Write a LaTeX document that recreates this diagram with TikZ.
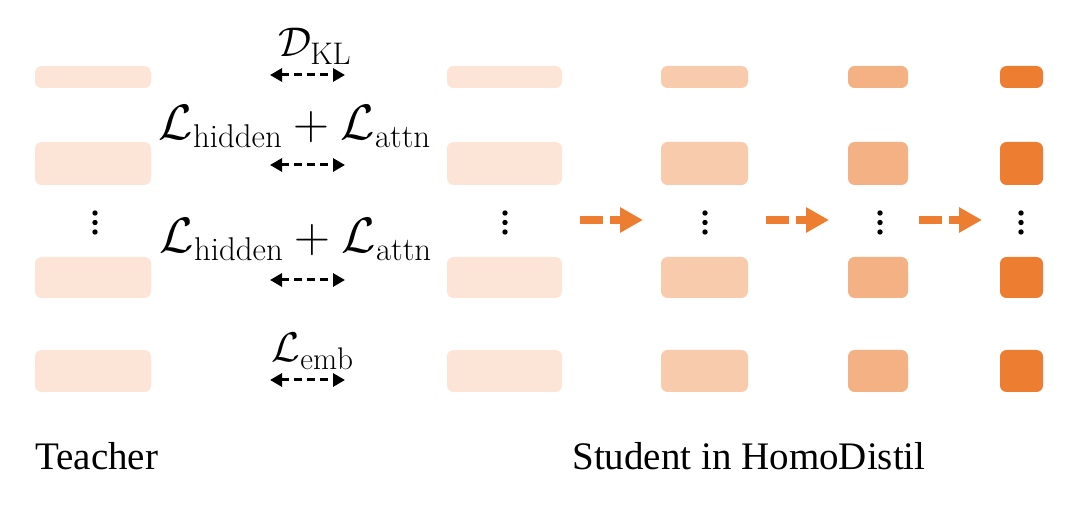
\documentclass[tikz,border=0pt]{standalone}
\usepackage{fontspec}
\newfontfamily\tnr{Liberation Serif}
\usetikzlibrary{arrows.meta}
\definecolor{c1}{HTML}{FCE4D6}
\definecolor{c2}{HTML}{F8CBAD}
\definecolor{c3}{HTML}{F4B183}
\definecolor{c4}{HTML}{ED7D31}
\tikzset{
  blk/.style={rounded corners=3.3pt},
  lab/.style={anchor=base,inner sep=0pt,font=\fontsize{22.3}{26}\selectfont},
  labw/.style={anchor=base,inner sep=0pt,font=\fontsize{23.5}{28}\selectfont},
  captxt/.style={anchor=base west,inner sep=0pt,font=\tnr\fontsize{19.5}{23}\selectfont},
  klarr/.style={line width=1.5pt,dash pattern=on 4pt off 2.5pt,{Triangle[length=6pt,width=6.5pt]}-{Triangle[length=6pt,width=6.5pt]}},
  orarr/.style={draw=c4,line width=4pt,dash pattern=on 11.5pt off 3.5pt on 60pt,-{Triangle[length=11.5pt,width=12pt]}},
  dotnode/.style={circle,fill=black,inner sep=0pt,minimum size=2.7pt}
}
\begin{document}
\begin{tikzpicture}[x=0.5pt,y=-0.5pt]
\useasboundingbox (0,0) rectangle (1080,506);
% columns: left x, right x, colour
\foreach \n/\xl/\xr/\c in {t/35/151/c1, s/447/562/c1, a/661/748/c2, b/848/908/c3, c/1000/1043/c4}{
  \fill[blk,\c] (\xl,66) rectangle (\xr,88) coordinate (\n1);
  \fill[blk,\c] (\xl,142) rectangle (\xr,185) coordinate (\n2);
  \fill[blk,\c] (\xl,257) rectangle (\xr,298) coordinate (\n3);
  \fill[blk,\c] (\xl,350) rectangle (\xr,392) coordinate (\n4);
}
% vertical dots
\foreach \n/\x in {t/95, s/505, a/705, b/880, c/1021}{
  \node[dotnode] (\n da) at (\x,213) {};
  \node[dotnode] (\n db) at (\x,222.5) {};
  \node[dotnode] (\n dc) at (\x,232) {};
}
% loss labels
\node[lab] (l1) at (315,57) {$\mathcal{D}_{\mathrm{KL}}$};
\node[labw] (l2) at (295,140) {$\mathcal{L}_{\mathrm{hidden}}+\mathcal{L}_{\mathrm{attn}}$};
\node[labw] (l3) at (296,253) {$\mathcal{L}_{\mathrm{hidden}}+\mathcal{L}_{\mathrm{attn}}$};
\node[lab] (l4) at (313,362) {$\mathcal{L}_{\mathrm{emb}}$};
% dashed double arrows
\foreach \i/\y in {1/75, 2/165, 3/280, 4/380}{
  \coordinate (kl\i) at (270,\y);
  \coordinate (kr\i) at (345,\y);
  \draw[klarr] (kl\i) -- (kr\i);
}
% orange arrows
\coordinate (o1s) at (580,220); \coordinate (o1e) at (643,220);
\coordinate (o2s) at (766,220); \coordinate (o2e) at (829,220);
\coordinate (o3s) at (919,220); \coordinate (o3e) at (982,220);
\draw[orarr] (o1s) -- (o1e);
\draw[orarr] (o2s) -- (o2e);
\draw[orarr] (o3s) -- (o3e);
% captions
\node[captxt] (teacher) at (35,470) {Teacher};
\node[captxt] (student) at (572,470) {Student in HomoDistil};
\end{tikzpicture}
\end{document}
